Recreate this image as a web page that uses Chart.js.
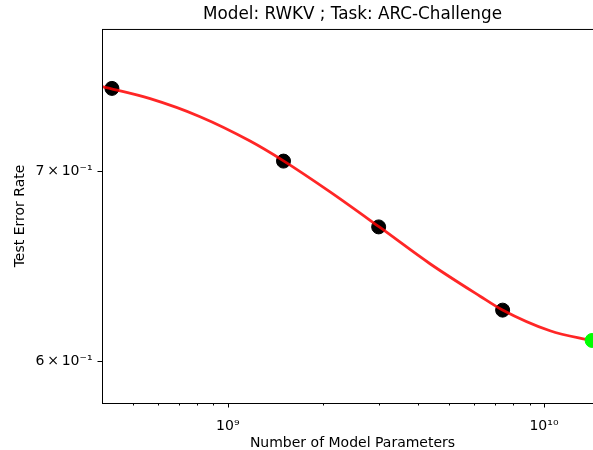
<!DOCTYPE html>
<html>
<head>
<meta charset="utf-8">
<script src="https://cdn.jsdelivr.net/npm/chart.js@4/dist/chart.umd.min.js"></script>
<style>
    html, body { margin: 0; padding: 0; background: white; overflow: hidden; }
</style>
</head>
<body>
<canvas id="chart" width="705" height="450"></canvas>
<script>
// measured models (black) and the held-out largest model (green)
const paramCounts = [4.3e8, 1.5e9, 3.0e9, 7.4e9];
const errorRates = [0.7486, 0.7057, 0.669, 0.6253];
const heldOutParams = [1.42e10];
const heldOutErrors = [0.6101];

// fitted curve
const fitParams = [4.005e8, 5.68e8, 8.17e8, 1.176e9, 1.496e9, 2.106e9, 3.03e9, 4.36e9, 6.28e9, 7.365e9, 1.045e10, 1.43e10];
const fitErrors = [0.7497, 0.7424, 0.7316, 0.7173, 0.7060, 0.6883, 0.6687, 0.6493, 0.6324, 0.6255, 0.6149, 0.6098];

// tick values and labels
const xTickValues = [5e8, 6e8, 7e8, 8e8, 9e8, 1e9, 2e9, 3e9, 4e9, 5e9, 6e9, 7e9, 8e9, 9e9, 1e10];
const xTickLabels = ['', '', '', '', '', '10\u2079', '', '', '', '', '', '', '', '', '10\u00b9\u2070'];
const yTickValues = [0.6, 0.7];
const yTickLabels = ['6\u2009\u00d7\u200910\u207b\u00b9', '7\u2009\u00d7\u200910\u207b\u00b9'];

const toPoints = (xs, ys) => xs.map((x, i) => ({x: x, y: ys[i]}));

const FONT = "'DejaVu Sans', sans-serif";

// spines + tick marks (major longer than minor), matplotlib style
const axesFrame = {
    id: 'axesFrame',
    afterDraw(chart)
    {
        const ctx = chart.ctx;
        const a = chart.chartArea;
        ctx.save();
        ctx.strokeStyle = 'black';
        ctx.lineWidth = 1;
        ctx.strokeRect(a.left + 0.5, a.top + 0.5, a.right - a.left, a.bottom - a.top);

        const xs = chart.scales.x;
        xs.ticks.forEach((t, i) => {
            const px = Math.round(xs.getPixelForValue(t.value)) + 0.5;
            const len = xTickLabels[i] ? 4.5 : 2.5;
            ctx.beginPath();
            ctx.moveTo(px, a.bottom);
            ctx.lineTo(px, a.bottom + len);
            ctx.stroke();
        });

        const ys = chart.scales.y;
        ys.ticks.forEach((t) => {
            const py = Math.round(ys.getPixelForValue(t.value)) + 0.5;
            ctx.beginPath();
            ctx.moveTo(a.left, py);
            ctx.lineTo(a.left - 4.5, py);
            ctx.stroke();
        });
        ctx.restore();
    }
};

new Chart(document.getElementById('chart').getContext('2d'),
    {
        type: 'scatter',
        data: {
            datasets: [
                {
                    type: 'line',
                    data: toPoints(fitParams, fitErrors),
                    borderColor: 'rgba(255, 0, 0, 0.85)',
                    borderWidth: 2.8,
                    pointRadius: 0,
                    cubicInterpolationMode: 'monotone',
                    fill: false,
                    order: 1
                },
                {
                    data: toPoints(paramCounts, errorRates),
                    backgroundColor: 'black',
                    borderColor: 'black',
                    pointRadius: 7,
                    order: 2
                },
                {
                    data: toPoints(heldOutParams, heldOutErrors),
                    backgroundColor: '#00ff00',
                    borderColor: '#00ff00',
                    pointRadius: 7,
                    order: 0
                }
            ]
        },
        options: {
            responsive: false,
            animation: false,
            layout: { padding: 0 },
            plugins: {
                legend: { display: false },
                tooltip: { enabled: false },
                title: {
                    display: true,
                    text: 'Model: RWKV ; Task: ARC-Challenge',
                    color: 'black',
                    font: { family: FONT, size: 16.8, weight: 'normal' },
                    padding: { top: 4.4, bottom: 4.4 }
                }
            },
            scales: {
                x: {
                    type: 'logarithmic',
                    position: 'bottom',
                    min: 4.0e8,
                    max: 1.537e10,
                    afterBuildTicks: (s) => { s.ticks = xTickValues.map(v => ({value: v})); },
                    afterFit: (s) => { s.height = 47; },
                    grid: { drawOnChartArea: false, drawTicks: false },
                    border: { display: false },
                    ticks: {
                        autoSkip: false,
                        maxRotation: 0,
                        padding: 15,
                        color: 'black',
                        font: { family: FONT, size: 14 },
                        callback: (v, i) => xTickLabels[i]
                    },
                    title: {
                        display: true,
                        text: 'Number of Model Parameters',
                        color: 'black',
                        font: { family: FONT, size: 14, lineHeight: 1 },
                        padding: { top: 0, bottom: 0 }
                    }
                },
                y: {
                    type: 'logarithmic',
                    position: 'left',
                    min: 0.5799,
                    max: 0.7856,
                    afterBuildTicks: (s) => { s.ticks = yTickValues.map(v => ({value: v})); },
                    afterFit: (s) => { s.width = 102; },
                    grid: { drawOnChartArea: false, drawTicks: false },
                    border: { display: false },
                    ticks: {
                        padding: 9.5,
                        color: 'black',
                        font: { family: FONT, size: 14 },
                        callback: (v, i) => yTickLabels[i]
                    },
                    title: {
                        display: true,
                        text: 'Test Error Rate',
                        color: 'black',
                        font: { family: FONT, size: 14, lineHeight: 1 },
                        padding: { top: 13.7, bottom: 0 }
                    }
                },
                // empty right-hand box so the axes end past the visible edge (cropped figure)
                yRight: {
                    type: 'linear',
                    position: 'right',
                    display: true,
                    afterFit: (s) => { s.width = 102; },
                    grid: { display: false },
                    border: { display: false },
                    ticks: { display: false }
                }
            }
        },
        plugins: [axesFrame]
    });
</script>
</body>
</html>
